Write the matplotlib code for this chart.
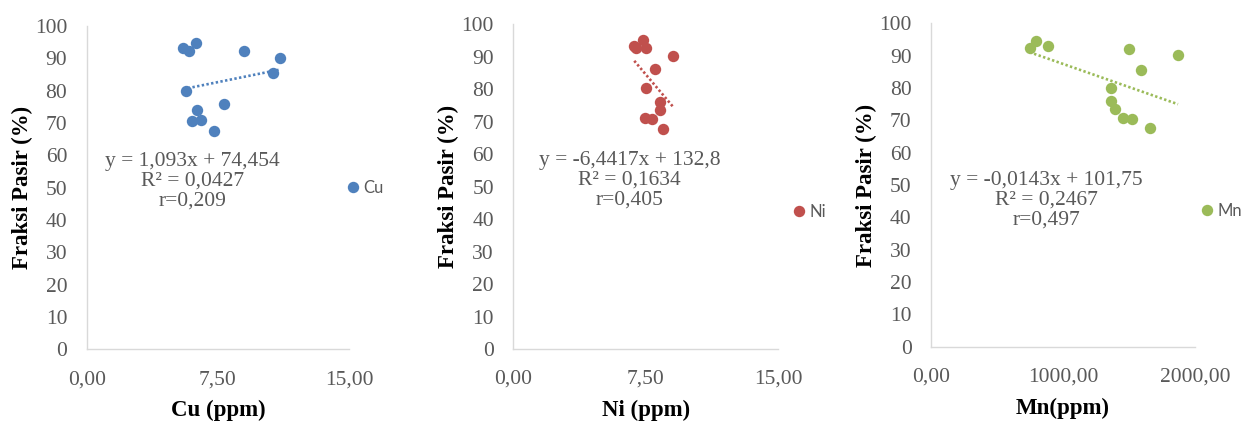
import matplotlib
matplotlib.use("Agg")
import matplotlib.pyplot as plt
import numpy as np

# data
cu = [5.51, 5.86, 6.22, 8.99, 11.05, 10.66, 5.67, 7.82, 6.28, 5.99, 6.51, 7.27]
fraksi_cu = [93.3, 92.4, 94.7, 92.3, 90.1, 85.6, 80.0, 76.0, 73.9, 70.7, 70.8, 67.6]

ni = [6.85, 6.97, 7.37, 7.53, 9.04, 8.04, 7.53, 8.32, 8.32, 7.47, 7.85, 8.45]
fraksi_ni = [93.2, 92.6, 95.1, 92.5, 90.2, 86.1, 80.2, 76.1, 73.5, 71.0, 70.7, 67.7]

mn = [747, 798, 889, 1502, 1871, 1589, 1361, 1366, 1391, 1457, 1520, 1657]
fraksi_mn = [92.3, 94.6, 93.1, 92.2, 90.1, 85.6, 79.9, 76.1, 73.5, 70.8, 70.5, 67.5]

# trendline coefficients (slope, intercept) as printed on the chart
trend_cu = (1.093, 74.454)
trend_ni = (-6.4417, 132.8)
trend_mn = (-0.0143, 101.75)

labels_eq = [
    "y = 1,093x + 74,454\nR\u00b2 = 0,0427\nr=0,209",
    "y = -6,4417x + 132,8\nR\u00b2 = 0,1634\nr=0,405",
    "y = -0,0143x + 101,75\nR\u00b2 = 0,2467\nr=0,497",
]
series_names = ["Cu", "Ni", "Mn"]
xlabels = ["Cu (ppm)", "Ni (ppm)", "Mn(ppm)"]
xticks = [[0, 7.5, 15], [0, 7.5, 15], [0, 1000, 2000]]
xlims = [(0, 15), (0, 15), (0, 2000)]
yticks = list(range(0, 101, 10))

colors = ["#4F81BD", "#C0504D", "#9BBB59"]
grey = "#595959"
axis_col = "#D9D9D9"

xs = [cu, ni, mn]
ys = [fraksi_cu, fraksi_ni, fraksi_mn]
trends = [trend_cu, trend_ni, trend_mn]

# layout (figure fractions) and text / legend spots
positions = [
    [0.0695, 0.1781, 0.2106, 0.7607],
    [0.4116, 0.1788, 0.2125, 0.7647],
    [0.7466, 0.1842, 0.2117, 0.7609],
]
eq_pos = [(6.05, 52.1), (6.57, 52.0), (876, 45.4)]
leg_pos = [(0.981, 0.50), (1.047, 0.4225), (1.013, 0.4205)]

serif = "Liberation Serif"

fig = plt.figure(figsize=(12.47, 4.25), dpi=100)

for i in range(3):
    ax = fig.add_axes(positions[i])
    x = np.array(xs[i])
    y = np.array(ys[i])

    # trendline over the range of x
    m, b = trends[i]
    tx = np.array([x.min(), x.max()])
    ax.plot(tx, m * tx + b, color=colors[i], lw=1.9,
            linestyle=(0, (0.9, 0.9)), dash_capstyle="butt", zorder=2)

    ax.plot(x, y, "o", color=colors[i], markersize=8.2, markeredgewidth=0,
            label=series_names[i], zorder=3)

    ax.set_xlim(*xlims[i])
    ax.set_ylim(0, 100)
    ax.set_xticks(xticks[i])
    ax.set_xticklabels(["{:.2f}".format(v).replace(".", ",") for v in xticks[i]])
    ax.set_yticks(yticks)

    for s in ["top", "right"]:
        ax.spines[s].set_visible(False)
    for s in ["left", "bottom"]:
        ax.spines[s].set_color(axis_col)
        ax.spines[s].set_linewidth(1.0)
    ax.spines["left"].set_bounds(0, 100)

    ax.tick_params(axis="both", length=0, colors=grey, labelsize=15.5)
    ax.tick_params(axis="x", pad=15)
    ax.tick_params(axis="y", pad=14)
    for lab in ax.get_xticklabels() + ax.get_yticklabels():
        lab.set_fontfamily(serif)

    ax.set_xlabel(xlabels[i], fontfamily=serif, fontsize=16.5,
                  fontweight="bold", labelpad=8)
    ax.set_ylabel("Fraksi Pasir (%)", fontfamily=serif, fontsize=16.5,
                  fontweight="bold")
    ax.yaxis.set_label_coords(-0.205, 0.5)

    ax.text(eq_pos[i][0], eq_pos[i][1], labels_eq[i], ha="center",
            va="center", fontfamily=serif, fontsize=15.5, color=grey,
            linespacing=1.05)

    ax.legend(loc="center left", bbox_to_anchor=leg_pos[i], frameon=False,
              borderpad=0, borderaxespad=0, handlelength=1.0,
              handletextpad=0.15, prop={"family": "Lato", "size": 12},
              labelcolor=grey)

fig.savefig("out.png", dpi=100)
